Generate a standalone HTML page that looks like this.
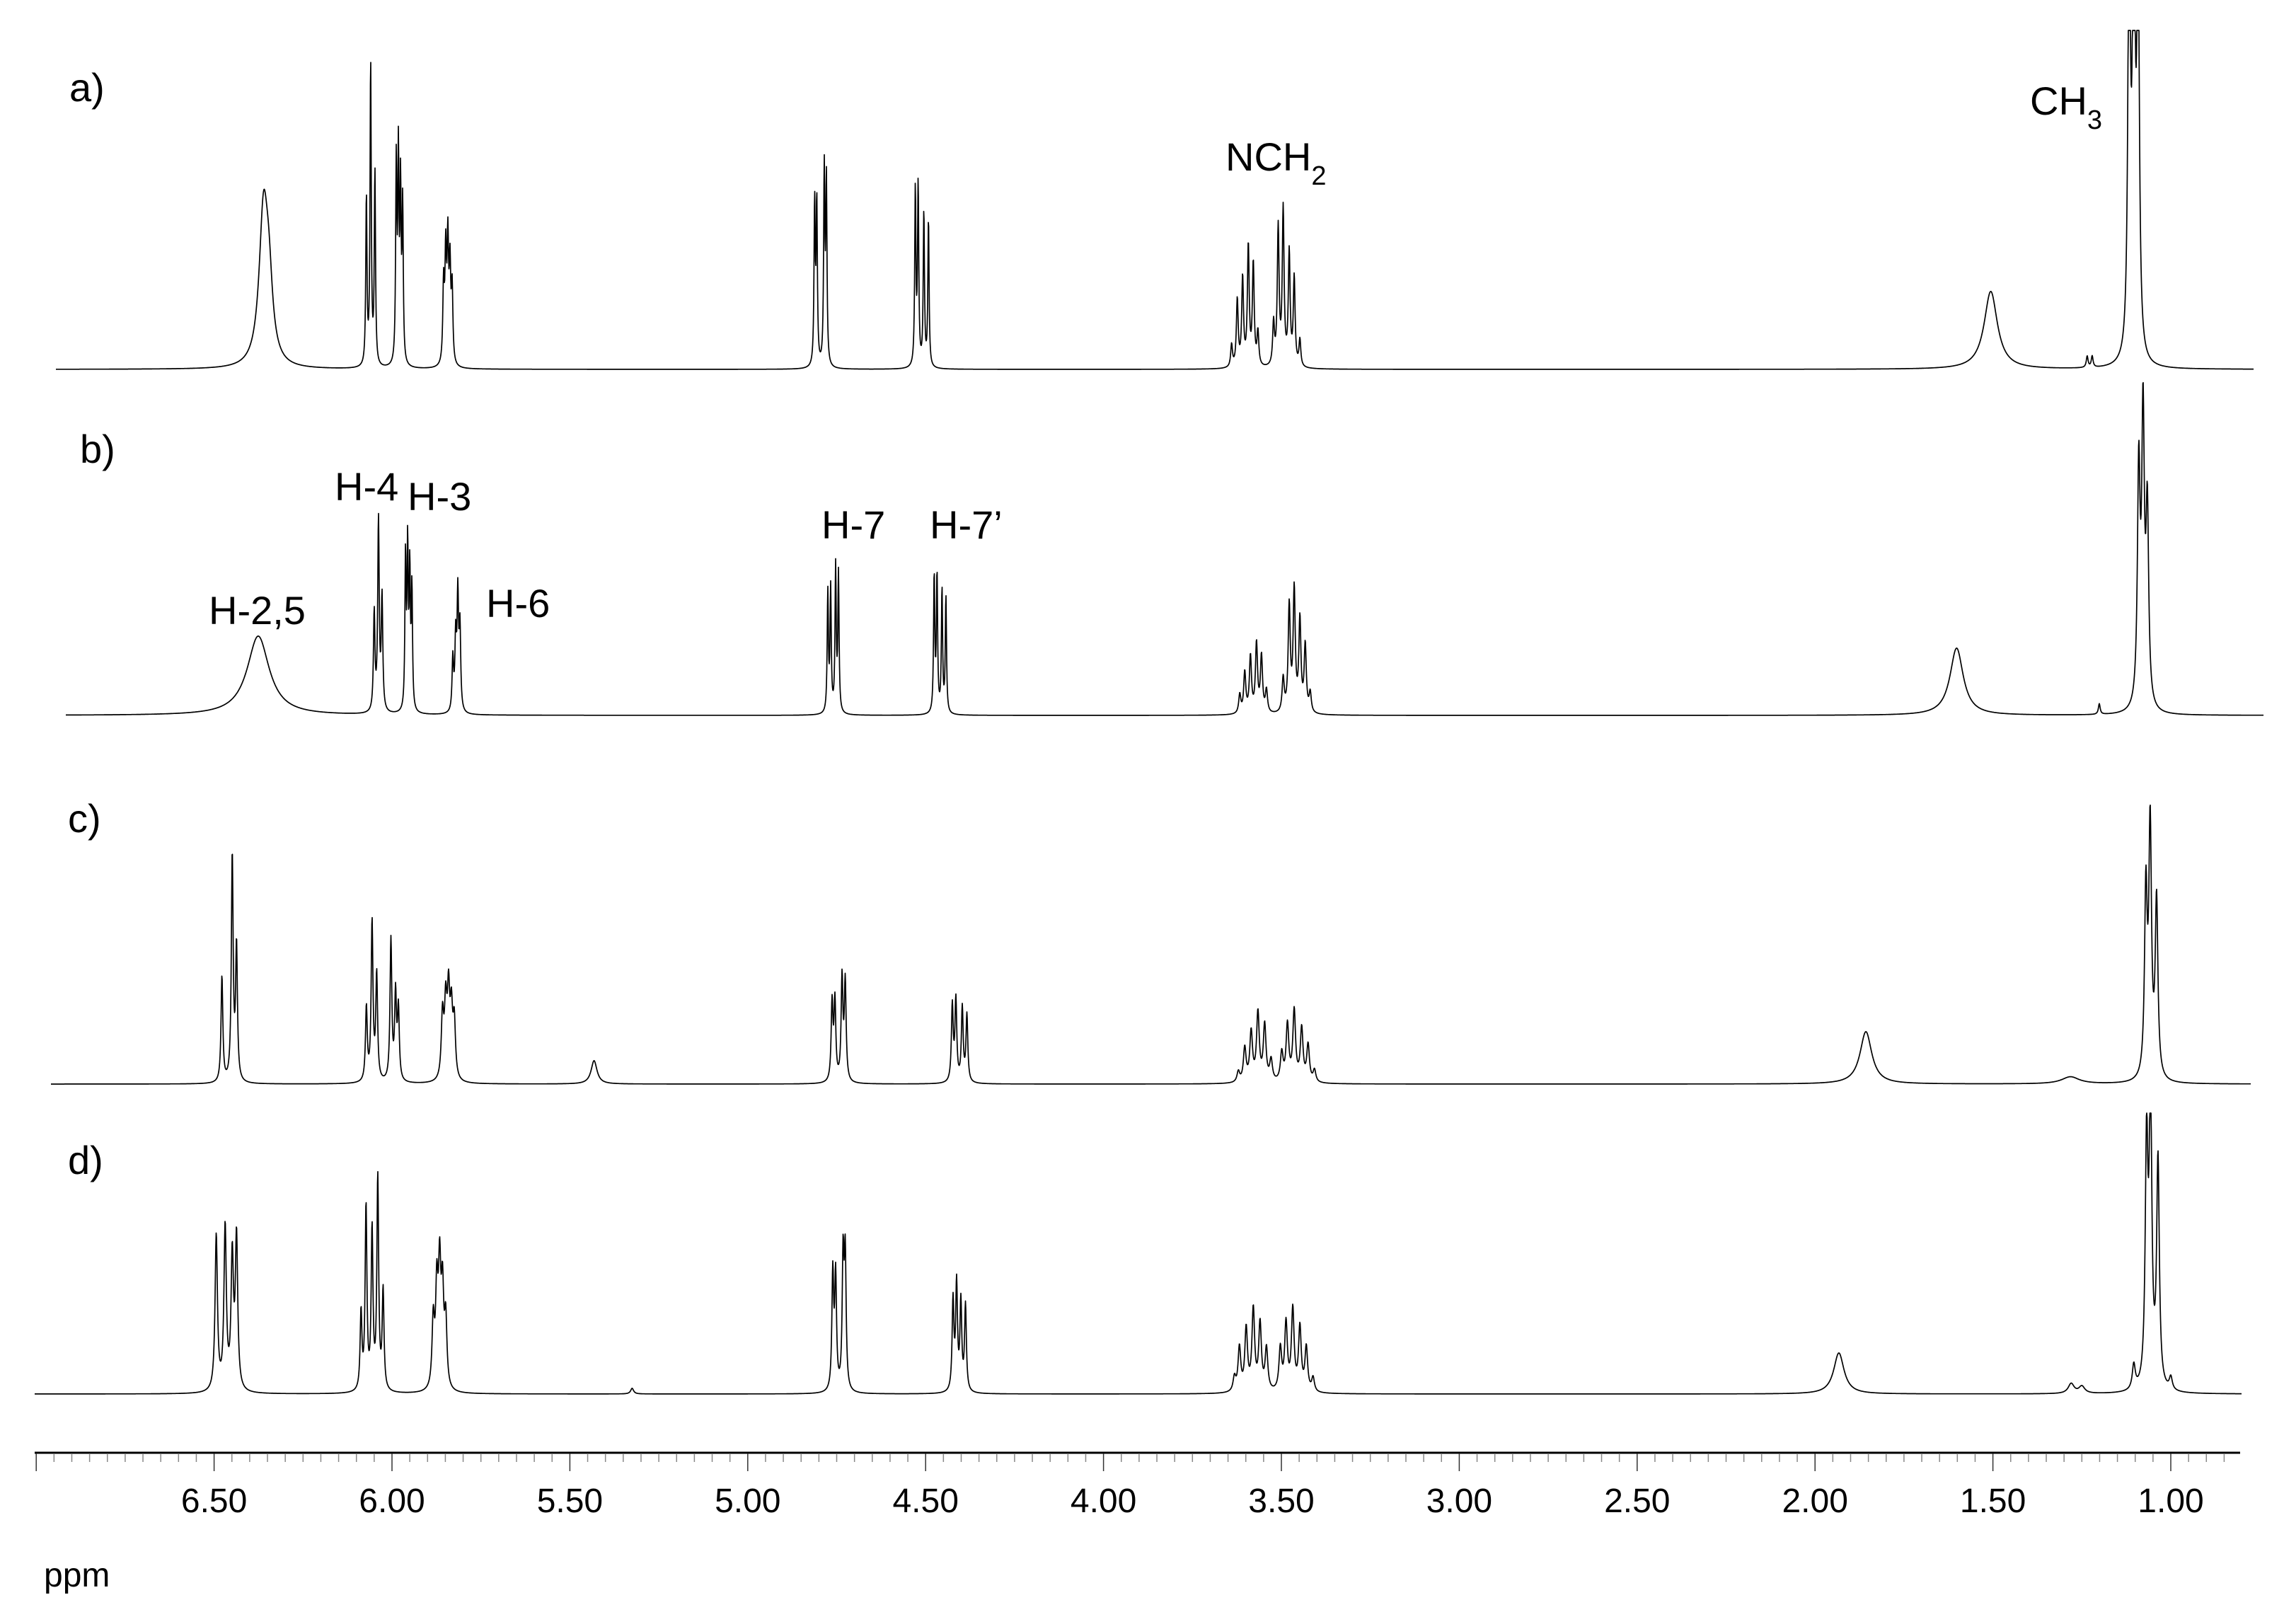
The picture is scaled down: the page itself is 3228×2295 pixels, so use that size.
<!DOCTYPE html>
<html><head><meta charset="utf-8"><style>
html,body{margin:0;padding:0;background:#fff;}
svg{display:block;font-family:"Liberation Sans",Arial,sans-serif;}
</style></head><body>
<svg id="chart" width="3228" height="2295" viewBox="0 0 3228 2295" xmlns="http://www.w3.org/2000/svg">
<rect width="3228" height="2295" fill="#fff"/>
<g id="spectra"></g>
<g id="axis"></g>
<g font-size="56" fill="#000">
<text x="98" y="143">a)</text>
<text x="113" y="654">b)</text>
<text x="96" y="1176">c)</text>
<text x="96" y="1659">d)</text>
<text x="1732" y="241">NCH<tspan font-size="38" dy="20">2</tspan></text>
<text x="2869" y="162">CH<tspan font-size="38" dy="20">3</tspan></text>
<text x="295" y="882">H-2,5</text>
<text x="473" y="707">H-4</text>
<text x="576" y="721">H-3</text>
<text x="687" y="872">H-6</text>
<text x="1161" y="761">H-7</text>
<text x="1314" y="761">H-7’</text>
</g>
</svg>
<script>
// ---- data ----
const aPpm=[6.361,6.346,6.072,6.060,6.048,5.988,5.982,5.976,5.970,5.855,5.849,5.843,5.837,5.831,4.812,4.806,4.785,4.779,4.529,4.521,4.505,4.492,3.640,3.624,3.609,3.593,3.579,3.566,3.522,3.509,3.495,3.478,3.464,3.448,1.506,1.235,1.221,1.117,1.104,1.092];
const aHeight=[215,90,240,430,275,280,285,240,220,110,150,165,130,105,230,230,275,260,250,255,220,210,32,95,125,170,145,48,60,195,220,160,125,38,110,16,16,650,700,600];
const aWidth=[0.03,0.025,0.004,0.004,0.004,0.004,0.004,0.004,0.004,0.005,0.005,0.005,0.005,0.005,0.004,0.004,0.004,0.004,0.004,0.004,0.004,0.004,0.006,0.006,0.006,0.006,0.006,0.006,0.006,0.006,0.006,0.006,0.006,0.006,0.045,0.006,0.006,0.008,0.008,0.008];

const bPpm=[6.376,6.050,6.038,6.028,5.962,5.956,5.950,5.944,5.829,5.821,5.815,5.809,4.775,4.767,4.753,4.745,4.476,4.468,4.454,4.443,3.617,3.603,3.587,3.570,3.556,3.542,3.495,3.478,3.464,3.448,3.433,3.419,1.602,1.201,1.090,1.078,1.066];
const bHeight=[112,140,270,160,215,225,190,170,75,100,160,115,170,175,205,195,195,195,175,165,27,58,80,98,80,32,48,150,172,130,95,28,95,15,330,400,270];
const bWidth=[0.075,0.005,0.005,0.005,0.004,0.004,0.004,0.004,0.005,0.005,0.005,0.005,0.004,0.004,0.004,0.004,0.004,0.004,0.004,0.004,0.007,0.007,0.007,0.007,0.007,0.007,0.007,0.007,0.007,0.007,0.007,0.007,0.045,0.006,0.009,0.009,0.009];

const cPpm=[6.478,6.449,6.437,6.072,6.056,6.043,6.003,5.990,5.982,5.858,5.849,5.841,5.833,5.825,5.432,4.763,4.755,4.735,4.726,4.425,4.415,4.397,4.384,3.621,3.603,3.585,3.566,3.547,3.529,3.499,3.483,3.464,3.443,3.425,3.407,1.857,1.282,1.070,1.058,1.040];
const cHeight=[150,320,190,105,225,150,200,120,100,90,100,115,90,80,33,110,112,145,140,108,115,105,95,15,48,70,97,80,30,40,80,100,75,52,17,74,10,260,350,250];
const cWidth=[0.006,0.006,0.006,0.006,0.006,0.006,0.006,0.006,0.006,0.008,0.008,0.008,0.008,0.008,0.02,0.006,0.006,0.006,0.006,0.006,0.006,0.006,0.006,0.009,0.009,0.009,0.009,0.009,0.009,0.009,0.009,0.009,0.009,0.009,0.009,0.04,0.06,0.009,0.009,0.009];

const dPpm=[6.494,6.469,6.449,6.437,6.087,6.073,6.056,6.040,6.025,5.884,5.874,5.866,5.858,5.849,5.325,4.761,4.753,4.732,4.726,4.423,4.413,4.401,4.388,3.632,3.618,3.599,3.579,3.560,3.542,3.503,3.487,3.468,3.448,3.430,3.411,1.933,1.28,1.25,1.104,1.068,1.057,1.036,1.00];
const dHeight=[220,230,185,215,110,260,225,300,140,95,135,160,130,95,8,165,160,185,185,128,150,125,122,20,62,88,115,95,60,60,95,115,90,62,20,58,14,10,35,340,400,320,18];
const dWidth=[0.008,0.008,0.008,0.008,0.006,0.006,0.006,0.006,0.006,0.008,0.008,0.008,0.008,0.008,0.01,0.006,0.006,0.006,0.006,0.006,0.006,0.006,0.006,0.009,0.009,0.009,0.009,0.009,0.009,0.009,0.009,0.009,0.009,0.009,0.009,0.035,0.02,0.02,0.01,0.009,0.009,0.009,0.01];

const tickLabels=["6.50","6.00","5.50","5.00","4.50","4.00","3.50","3.00","2.50","2.00","1.50","1.00"];
const tickValues=[6.5,6.0,5.5,5.0,4.5,4.0,3.5,3.0,2.5,2.0,1.5,1.0];

// ---- scales ----
const NS="http://www.w3.org/2000/svg";
function xScale(p){return 302.6+(6.5-p)*502.8;}
function ppmAt(x){return 6.5-(x-302.6)/502.8;}

function drawSpectrum(name,pos,hts,wid,baseY,x0,x1,clipY){
  let d="";
  for(let x=x0;x<=x1;x+=0.5){
    const p=ppmAt(x);
    let s=0;
    for(let i=0;i<pos.length;i++){
      const g=wid[i]/2;const u=(p-pos[i])/g;
      s+=hts[i]/(1+u*u);
    }
    let y=baseY-s;
    if(y<clipY)y=clipY;
    d+=(d?"L":"M")+x.toFixed(1)+" "+y.toFixed(1);
  }
  const path=document.createElementNS(NS,"path");
  path.setAttribute("d",d);
  path.setAttribute("fill","none");
  path.setAttribute("stroke","#000");
  path.setAttribute("stroke-width","1.7");
  path.setAttribute("stroke-linejoin","round");
  
  
  document.getElementById("spectra").appendChild(path);
}
drawSpectrum("spectrum-a",aPpm,aHeight,aWidth,522,79,3185,43);
drawSpectrum("spectrum-b",bPpm,bHeight,bWidth,1011,93,3199,0);
drawSpectrum("spectrum-c",cPpm,cHeight,cWidth,1532,72,3181,0);
drawSpectrum("spectrum-d",dPpm,dHeight,dWidth,1970,49,3168,1573);

// ---- axis ----
const ax=document.getElementById("axis");
const line=document.createElementNS(NS,"line");
line.setAttribute("x1","49");line.setAttribute("x2","3166");
line.setAttribute("y1","2053");line.setAttribute("y2","2053");
line.setAttribute("stroke","#000");line.setAttribute("stroke-width","3");


ax.appendChild(line);
for(let k=0;k<=124;k++){
  const p=7.0-k*0.05;
  if(p<0.8)break;
  const x=xScale(p);
  const major=Math.abs(p*2-Math.round(p*2))<1e-6;
  const t=document.createElementNS(NS,"line");
  t.setAttribute("x1",x);t.setAttribute("x2",x);
  t.setAttribute("y1","2054");t.setAttribute("y2",major?"2079":"2066");
  t.setAttribute("stroke",major?"#333":"#888");t.setAttribute("stroke-width","1.5");
  
  
  ax.appendChild(t);
}
tickLabels.forEach((lab,i)=>{
  const t=document.createElementNS(NS,"text");
  t.setAttribute("x",xScale(tickValues[i]));
  t.setAttribute("y","2137");
  t.setAttribute("text-anchor","middle");
  t.setAttribute("font-size","48");
  t.textContent=lab;
  
  
  ax.appendChild(t);
});
const unit=document.createElementNS(NS,"text");
unit.setAttribute("x","62");unit.setAttribute("y","2242");
unit.setAttribute("font-size","48");
unit.textContent="ppm";


ax.appendChild(unit);
</script>
</body></html>
